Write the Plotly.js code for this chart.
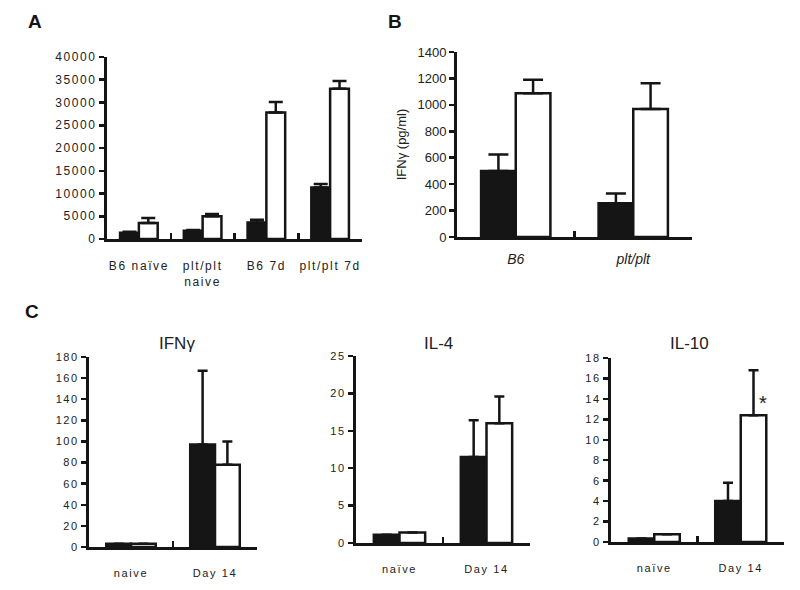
<!DOCTYPE html>
<html>
<head>
<meta charset="utf-8">
<script src="https://cdn.plot.ly/plotly-3.0.1.min.js"></script>
<style>
html,body{margin:0;padding:0;background:#fff;}
#chart{width:800px;height:590px;}
.xtick text,.ytick text,.x3tick text,.y3tick text,.x4tick text,.y4tick text,.x5tick text,.y5tick text{letter-spacing:1.6px;}
</style>
</head>
<body>
<div id="chart"></div>
<script>
// Panel A
const catsA = ['B6 naïve', 'plt/plt<br>naive', 'B6 7d', 'plt/plt 7d'];
const aBlack = [1400, 1800, 3600, 11300];
const aBlackErr = [200, 200, 650, 800];
const aWhite = [3500, 5000, 27800, 33000];
const aWhiteErr = [1100, 500, 2300, 1700];
const ticksA = [0, 5000, 10000, 15000, 20000, 25000, 30000, 35000, 40000];

// Panel B
const catsB = ['B6', 'plt/plt'];
const bBlack = [500, 255];
const bBlackErr = [125, 75];
const bWhite = [1088, 968];
const bWhiteErr = [102, 195];
const ticksB = [0, 200, 400, 600, 800, 1000, 1200, 1400];

// Panel C
const catsC1 = ['naive', 'Day 14'];
const catsC = ['naïve', 'Day 14'];
const c1Black = [3, 97];
const c1BlackErr = [null, 70];
const c1White = [3, 78];
const c1WhiteErr = [null, 22];
const c2Black = [1.1, 11.5];
const c2BlackErr = [null, 4.9];
const c2White = [1.4, 16.0];
const c2WhiteErr = [null, 3.6];
const c3Black = [0.35, 4.0];
const c3BlackErr = [null, 1.8];
const c3White = [0.75, 12.4];
const c3WhiteErr = [null, 4.4];
const ticksC1 = [0, 20, 40, 60, 80, 100, 120, 140, 160, 180];
const ticksC2 = [0, 5, 10, 15, 20, 25];
const ticksC3 = [0, 2, 4, 6, 8, 10, 12, 14, 16, 18];
const cTitles = ['IFNγ', 'IL-4', 'IL-10'];

const FONT = 'Liberation Sans, Arial, sans-serif';
const BLK = '#151515';

function pair(cats, blk, blkErr, wht, whtErr, xa, ya, capW) {
  const common = {type: 'bar', x: cats, xaxis: xa, yaxis: ya, showlegend: false, hoverinfo: 'skip'};
  return [
    Object.assign({}, common, {
      y: blk,
      marker: {color: BLK, line: {color: BLK, width: 2.5}},
      error_y: {type: 'data', array: blkErr, arrayminus: blk.map(() => 0), symmetric: false,
                color: BLK, thickness: 2.5, width: capW}
    }),
    Object.assign({}, common, {
      y: wht,
      marker: {color: '#ffffff', line: {color: BLK, width: 2.5}},
      error_y: {type: 'data', array: whtErr, arrayminus: wht.map(() => 0), symmetric: false,
                color: BLK, thickness: 2.5, width: capW}
    })
  ];
}

const data = [].concat(
  pair(catsA, aBlack, aBlackErr, aWhite, aWhiteErr, 'x', 'y', 7),
  pair(catsB, bBlack, bBlackErr, bWhite, bWhiteErr, 'x2', 'y2', 10),
  pair(catsC1, c1Black, c1BlackErr, c1White, c1WhiteErr, 'x3', 'y3', 5),
  pair(catsC, c2Black, c2BlackErr, c2White, c2WhiteErr, 'x4', 'y4', 5),
  pair(catsC, c3Black, c3BlackErr, c3White, c3WhiteErr, 'x5', 'y5', 5)
);

function xax(domain, anchor, fontSize, standoff, italic) {
  return {
    domain: domain, anchor: anchor, type: 'category',
    showline: true, linecolor: BLK, linewidth: 3,
    ticks: 'inside', tickson: 'boundaries', ticklen: 6, tickwidth: 2.5, tickcolor: BLK,
    showgrid: false, zeroline: false, fixedrange: true,
    ticklabelstandoff: standoff,
    tickfont: {family: FONT, size: fontSize, color: '#222', style: italic ? 'italic' : 'normal'}
  };
}
function yax(domain, anchor, range, tickvals, fontSize, extra) {
  return Object.assign({
    domain: domain, anchor: anchor, range: range,
    showline: true, linecolor: BLK, linewidth: 3,
    ticks: 'outside', ticklen: 5, tickwidth: 2.5, tickcolor: BLK,
    tickmode: 'array', tickvals: tickvals, ticktext: tickvals.map(String),
    showgrid: false, zeroline: false, fixedrange: true,
    tickfont: {family: FONT, size: fontSize, color: '#222'}
  }, extra || {});
}

const layout = {
  width: 800, height: 590,
  margin: {l: 0, r: 0, t: 0, b: 0},
  paper_bgcolor: '#fff', plot_bgcolor: 'rgba(0,0,0,0)',
  barmode: 'group', bargap: 0.41, bargroupgap: 0,
  font: {family: FONT, color: '#222'},
  xaxis: xax([0.13375, 0.4525], 'y', 12, 14, false),
  yaxis: yax([0.5949, 0.9034], 'x', [0, 40000], ticksA, 12),
  xaxis2: xax([0.57125, 0.865], 'y2', 14, 7, true),
  yaxis2: yax([0.5983, 0.9119], 'x2', [0, 1400], ticksB, 13,
              {title: {text: 'IFNγ (pg/ml)', font: {family: FONT, size: 13, color: '#222'}, standoff: 8}}),
  xaxis3: xax([0.11125, 0.32125], 'y3', 11, 14, false),
  yaxis3: yax([0.0729, 0.3949], 'x3', [0, 180], ticksC1, 11),
  xaxis4: xax([0.445, 0.6625], 'y4', 11, 14, false),
  yaxis4: yax([0.0797, 0.3966], 'x4', [0, 25], ticksC2, 11),
  xaxis5: xax([0.76375, 0.98], 'y5', 11, 14, false),
  yaxis5: yax([0.0814, 0.3932], 'x5', [0, 18], ticksC3, 11),
  annotations: [
    {text: '<b>A</b>', xref: 'paper', yref: 'paper', x: 35 / 800, y: 1 - 22 / 590, showarrow: false,
     font: {family: FONT, size: 19, color: BLK}, xanchor: 'center', yanchor: 'middle'},
    {text: '<b>B</b>', xref: 'paper', yref: 'paper', x: 395 / 800, y: 1 - 22 / 590, showarrow: false,
     font: {family: FONT, size: 19, color: BLK}, xanchor: 'center', yanchor: 'middle'},
    {text: '<b>C</b>', xref: 'paper', yref: 'paper', x: 32 / 800, y: 1 - 311 / 590, showarrow: false,
     font: {family: FONT, size: 19, color: BLK}, xanchor: 'center', yanchor: 'middle'},
    {text: cTitles[0], xref: 'paper', yref: 'paper', x: 177 / 800, y: 1 - 343 / 590, showarrow: false,
     font: {family: FONT, size: 17, color: '#222'}, xanchor: 'center', yanchor: 'middle'},
    {text: cTitles[1], xref: 'paper', yref: 'paper', x: 438 / 800, y: 1 - 343 / 590, showarrow: false,
     font: {family: FONT, size: 17, color: '#222'}, xanchor: 'center', yanchor: 'middle'},
    {text: cTitles[2], xref: 'paper', yref: 'paper', x: 689 / 800, y: 1 - 343 / 590, showarrow: false,
     font: {family: FONT, size: 17, color: '#222'}, xanchor: 'center', yanchor: 'middle'},
    {text: '*', xref: 'paper', yref: 'paper', x: 763 / 800, y: 1 - 403 / 590, showarrow: false,
     font: {family: FONT, size: 20, color: '#222'}, xanchor: 'center', yanchor: 'middle'}
  ]
};

Plotly.newPlot('chart', data, layout, {staticPlot: true, displayModeBar: false});
</script>
</body>
</html>
